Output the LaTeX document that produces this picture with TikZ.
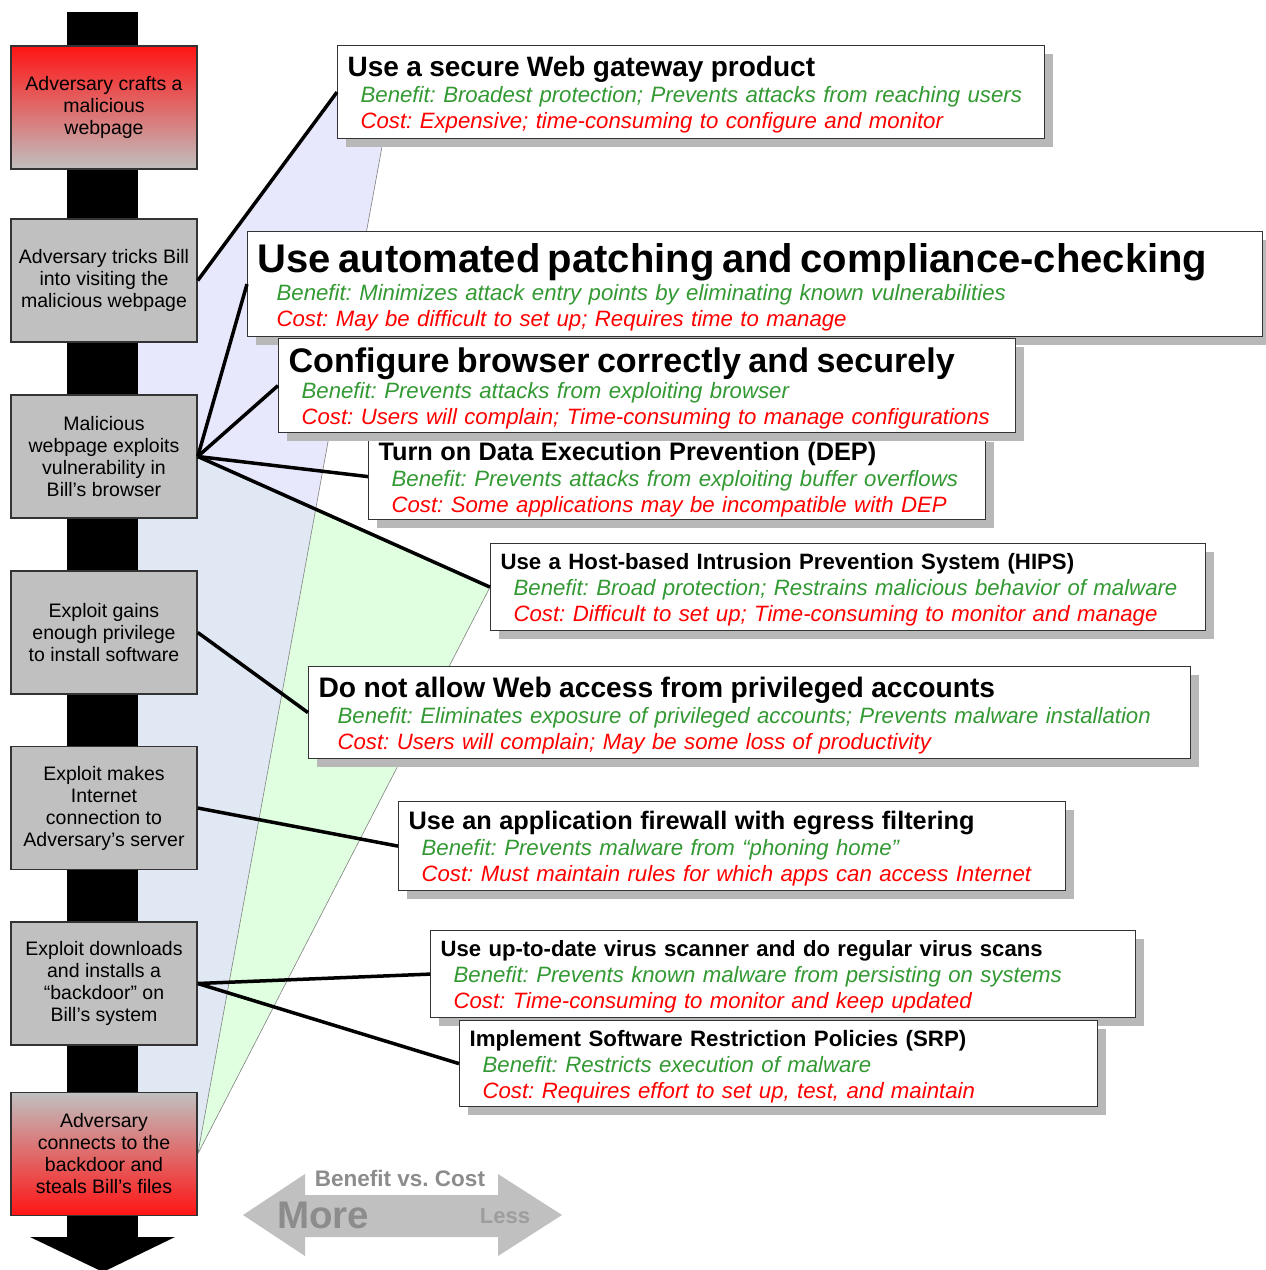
\documentclass[tikz,border=0pt]{standalone}
\usepackage{fontspec}
\setmainfont{Liberation Sans}
\frenchspacing
\usetikzlibrary{shadows,backgrounds}
\definecolor{boxgray}{RGB}{192,192,192}
\definecolor{advred}{RGB}{255,20,20}
\definecolor{bgreen}{RGB}{51,153,51}
\definecolor{cred}{RGB}{255,0,0}
\definecolor{lavwash}{RGB}{232,232,252}
\definecolor{bluewash}{RGB}{224,232,244}
\definecolor{mintwash}{RGB}{224,255,224}
\definecolor{arrowgray}{RGB}{192,192,192}
\definecolor{labelgray}{RGB}{140,140,140}
\newcommand\mtitle[2]{{\fontsize{#1}{#1}\selectfont\bfseries\rule{0pt}{\dimexpr #1pt*72/100+6pt\relax}#2}}
\newcommand\benline[2][13pt]{\hspace*{#1}{\color{bgreen}\itshape #2}}
\newcommand\costline[2][13pt]{\hspace*{#1}{\color{cred}\itshape #2}}
\begin{document}
\begin{tikzpicture}[x=1pt,y=-1pt,
  stage/.style={draw=black!80,line width=1.5pt,fill=boxgray,minimum width=186pt,minimum height=123pt,align=center,font=\fontsize{19.5}{22}\selectfont},
  mit/.style={draw=black!80,line width=1.2pt,fill=white,anchor=north west,align=left,inner xsep=10pt,inner ysep=0pt,font=\fontsize{22.2}{26}\selectfont,drop shadow={shadow xshift=8pt,shadow yshift=-8pt,fill=black!28,opacity=1}},
  conn/.style={line width=3.5pt},
  hair/.style={draw=black!50,line width=0.6pt}]
\useasboundingbox (0,0) rectangle (1266,1270);
\node[stage,top color=advred,bottom color=boxgray] (a1) at (104,107.5) {Adversary crafts a\\malicious\\webpage};
\node[stage] (a2) at (104,280.5) {Adversary tricks Bill\\into visiting the\\malicious webpage};
\node[stage] (a3) at (104,456.5) {Malicious\\webpage exploits\\vulnerability in\\Bill’s browser};
\node[stage] (a4) at (104,632.5) {Exploit gains\\enough privilege\\to install software};
\node[stage] (a5) at (104,808) {Exploit makes\\Internet\\connection to\\Adversary’s server};
\node[stage] (a6) at (104,983.5) {Exploit downloads\\and installs a\\“backdoor” on\\Bill’s system};
\node[stage,top color=boxgray,bottom color=advred] (a7) at (104,1154) {Adversary\\connects to the\\backdoor and\\steals Bill’s files};
\node[mit,text width=687pt,minimum height=93pt] (m1) at (337,45)
  {\mtitle{28}{Use a secure Web gateway product}\\
   \benline{Benefit: Broadest protection; Prevents attacks from reaching users}\\
   \costline{Cost: Expensive; time-consuming to configure and monitor}};
\node[mit,text width=995pt,minimum height=105pt] (m2) at (247,231)
  {\mtitle{40}{Use automated patching and compliance-checking}\\[2pt]
   \benline[19pt]{Benefit: Minimizes attack entry points by eliminating known vulnerabilities}\\
   \costline[19pt]{Cost: May be difficult to set up; Requires time to manage}};
\node[mit,text width=597pt,minimum height=86pt] (m4) at (368,433)
  {\mtitle{25.3}{Turn on Data Execution Prevention (DEP)}\\
   \benline{Benefit: Prevents attacks from exploiting buffer overflows}\\
   \costline{Cost: Some applications may be incompatible with DEP}};
\node[mit,text width=717pt,minimum height=94pt] (m3) at (278,338)
  {\mtitle{34.1}{Configure browser correctly and securely}\\
   \benline{Benefit: Prevents attacks from exploiting browser}\\
   \costline{Cost: Users will complain; Time-consuming to manage configurations}};
\node[mit,text width=695pt,minimum height=87pt] (m5) at (490,543)
  {\mtitle{22.2}{Use a Host-based Intrusion Prevention System (HIPS)}\\
   \benline{Benefit: Broad protection; Restrains malicious behavior of malware}\\
   \costline{Cost: Difficult to set up; Time-consuming to monitor and manage}};
\node[mit,text width=862pt,minimum height=92pt] (m6) at (308,666)
  {\mtitle{28.2}{Do not allow Web access from privileged accounts}\\
   \benline[19pt]{Benefit: Eliminates exposure of privileged accounts; Prevents malware installation}\\
   \costline[19pt]{Cost: Users will complain; May be some loss of productivity}};
\node[mit,text width=647pt,minimum height=89pt] (m7) at (398,801)
  {\mtitle{25.3}{Use an application firewall with egress filtering}\\
   \benline{Benefit: Prevents malware from “phoning home”}\\
   \costline{Cost: Must maintain rules for which apps can access Internet}};
\node[mit,text width=685pt,minimum height=87pt] (m8) at (430,930)
  {\mtitle{22.1}{Use up-to-date virus scanner and do regular virus scans}\\
   \benline{Benefit: Prevents known malware from persisting on systems}\\
   \costline{Cost: Time-consuming to monitor and keep updated}};
\node[mit,text width=618pt,minimum height=86pt] (m9) at (459,1020)
  {\mtitle{22.3}{Implement Software Restriction Policies (SRP)}\\
   \benline{Benefit: Restricts execution of malware}\\
   \costline{Cost: Requires effort to set up, test, and maintain}};
\draw[conn] (a2.east) -- (m1.west);
\draw[conn] (a3.east) -- (m2.west);
\draw[conn] (a3.east) -- (m3.west);
\draw[conn] (a3.east) -- (m4.west);
\draw[conn] (a3.east) -- (m5.west);
\draw[conn] (a4.east) -- (m6.west);
\draw[conn] (a5.east) -- (m7.west);
\draw[conn] (a6.east) -- (m8.west);
\draw[conn] (a6.east) -- (m9.west);
\fill[arrowgray] (243,1215) -- (305,1174) -- (305,1195) -- (498,1195) -- (498,1174) -- (562,1215)
  -- (498,1256) -- (498,1237) -- (305,1237) -- (305,1256) -- cycle;
\node[font=\fontsize{22.5}{22.5}\selectfont\bfseries,text=labelgray] (bvc) at (400,1178) {Benefit vs. Cost};
\node[font=\fontsize{38.5}{38.5}\selectfont\bfseries,text=labelgray] (more) at (323,1215) {More};
\node[font=\fontsize{22}{22}\selectfont\bfseries,text=labelgray!85] (less) at (505,1216) {Less};
\begin{scope}[on background layer]
\coordinate (tip) at (392,92);
\coordinate (cut) at (intersection of a3.east--m5.west and tip--a7.east);
\fill[bluewash] (138,280) -- (a2.east) -- (m1.west) -- (tip) -- (a7.east) -- (138,1154) -- cycle;
\fill[lavwash] (138,280) -- (a2.east) -- (m1.west) -- (tip) -- (cut) -- (a3.east) -- (138,457) -- cycle;
\fill[mintwash] (cut) -- (m5.west) -- (a7.east) -- cycle;
\draw[hair] (tip) -- (a7.east) (m5.west) -- (a7.east);
\fill (67,12) rectangle (138,1237);
\fill (30,1237) -- (175,1237) -- (103,1272) -- cycle;
\end{scope}
\end{tikzpicture}
\end{document}
